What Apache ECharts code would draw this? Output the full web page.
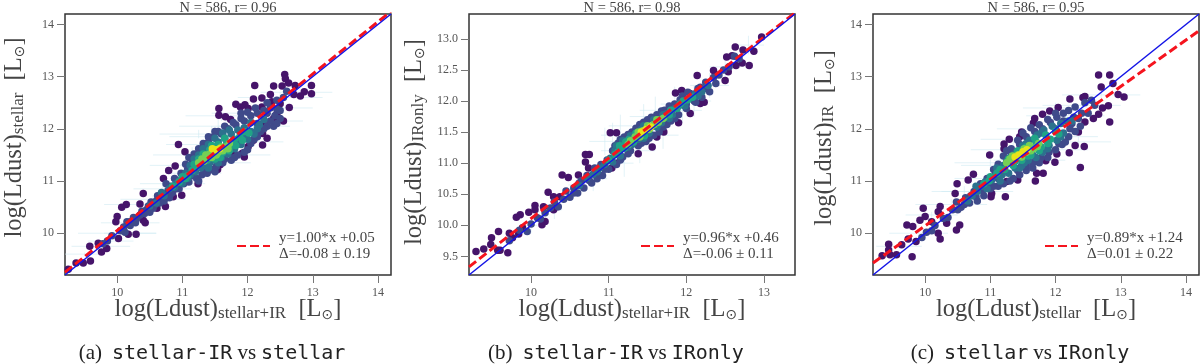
<!DOCTYPE html>
<html>
<head>
<meta charset="utf-8">
<style>html,body{margin:0;padding:0;background:#fff}#main{width:1200px;height:364px}</style>
<script src="https://cdn.jsdelivr.net/npm/echarts@6/dist/echarts.min.js"></script>
</head>
<body>
<div id="main"></div>
<script>
// tick labels
var ticksLong = [10, 11, 12, 13, 14];
var ticksShortX = [10, 11, 12, 13];
var ticksShortY = [9.5, 10, 10.5, 11, 11.5, 12, 12.5, 13];

// one-to-one and fitted lines
var oneToOneLong = [[9.2, 9.2], [14.2, 14.2]];
var oneToOneShort = [[9.2, 9.2], [13.4, 13.4]];
var fitA = [[9.2, 9.25], [14.2, 14.25]];
var fitB = [[9.2, 9.33], [13.4, 13.42]];
var fitC = [[9.2, 9.43], [14.2, 13.88]];

// panel a: points grouped by density, lowest first
var a0 = [[12.57,13.04],[12.58,12.96],[12.63,12.88],[12.73,12.83],[12.53,12.82],[12.40,12.82],[12.11,12.83],[12.98,12.83],[12.98,12.67],[12.87,12.71],[12.81,12.63],[12.71,12.66],[12.35,12.66],[12.22,12.59],[12.09,12.57],[11.96,12.46],[11.82,12.47],[12.64,12.41],[11.56,12.39],[11.56,12.26],[11.66,12.23],[11.74,12.18],[12.01,12.39],[11.89,12.42],[12.22,12.42],[12.37,12.52],[12.50,12.48],[12.45,12.29],[12.55,12.15],[12.40,12.20],[12.24,12.10],[12.23,11.91],[12.30,11.82],[12.23,11.69],[12.09,11.78],[12.01,11.66],[11.92,11.53],[11.95,11.46],[11.78,11.50],[11.58,11.40],[11.54,11.22],[11.58,11.31],[11.24,10.95],[10.94,11.70],[11.04,11.56],[10.89,11.29],[10.79,11.20],[10.71,11.05],[10.40,10.76],[10.35,10.56],[10.14,10.55],[10.07,10.50],[10.0,10.32],[9.98,10.22],[10.40,10.25],[10.43,10.20],[10.17,9.98],[10.29,9.98],[10.02,9.90],[9.58,9.75],[9.84,9.71],[9.76,9.64],[9.59,9.47],[9.48,9.43],[9.37,9.43],[9.25,9.31],[9.71,9.81],[10.74,10.51],[10.61,10.48],[10.99,10.73],[10.86,10.70]];
var a1 = [[10.05,10.05],[10.12,10.02],[10.2,10.15],[10.25,10.3],[10.3,10.28],[10.15,10.22],[10.1,10.12],[9.92,9.95],[9.85,9.85],[9.78,9.8],[10.35,10.35],[10.42,10.38],[10.48,10.52],[10.52,10.6],[10.55,10.48],[10.6,10.62],[10.65,10.58],[10.7,10.75],[10.72,10.62],[10.78,10.82],[10.8,10.68],[10.82,10.9],[10.85,10.78],[10.75,10.95],[10.9,10.85],[10.92,11.0],[10.95,10.85],[11.0,11.1],[11.02,10.95],[11.08,11.22],[11.1,10.98],[11.15,11.35],[11.15,11.1],[11.2,11.45],[11.22,11.05],[11.28,11.55],[11.3,11.12],[11.35,11.62],[11.38,11.15],[11.4,11.75],[11.45,11.22],[11.48,11.85],[11.52,11.28],[11.6,11.9],[11.62,11.35],[11.7,12.0],[11.75,11.4],[11.82,12.08],[11.85,11.5],[11.95,12.15],[12.0,11.6],[12.05,12.25],[12.1,11.8],[12.15,12.3],[12.2,11.95],[12.25,12.35],[12.3,12.05],[12.35,12.4],[12.4,12.05],[12.42,12.25],[12.45,12.38],[12.5,12.2],[12.55,12.6],[12.6,12.72],[11.9,12.2],[11.55,11.95],[11.25,11.4],[10.2,10.22],[10.28,10.2],[10.38,10.42],[10.45,10.45],[10.5,10.4],[10.58,10.55],[10.62,10.72],[10.68,10.68],[10.75,10.7],[10.82,10.75],[10.88,11.05],[10.98,11.15],[11.05,11.32],[11.1,11.45],[11.18,11.52],[11.25,11.62],[11.32,11.72],[11.4,11.85],[11.5,11.95],[11.65,12.05],[11.78,12.12],[11.9,12.3],[12.0,12.32],[12.12,12.4],[12.3,12.5],[12.45,12.55],[11.25,11.0],[11.35,11.22],[11.5,11.18],[11.65,11.42],[11.8,11.45],[11.95,11.55],[12.05,11.72],[12.15,11.85],[12.25,12.0],[12.35,12.15],[12.45,12.1],[12.5,12.35],[12.15,12.1],[12.3,12.3]];
var a2 = [[10.72,10.72],[10.8,10.85],[10.88,10.88],[10.95,11.0],[11.02,11.02],[11.05,11.15],[11.12,11.12],[11.15,11.25],[11.2,11.18],[11.22,11.35],[11.28,11.25],[11.3,11.45],[11.35,11.3],[11.38,11.55],[11.42,11.35],[11.45,11.65],[11.5,11.4],[11.55,11.75],[11.6,11.45],[11.65,11.82],[11.7,11.52],[11.75,11.9],[11.8,11.62],[11.85,11.98],[11.9,11.7],[11.95,12.02],[12.0,11.8],[12.05,12.12],[12.1,11.9],[12.18,12.08],[10.5,10.52],[10.6,10.58],[10.68,10.78],[10.9,10.95],[11.0,10.96],[11.08,11.05],[11.12,11.3],[11.18,11.42],[11.25,11.5],[11.32,11.62],[11.4,11.7],[11.5,11.82],[11.62,11.92],[11.72,11.98],[11.4,11.25],[11.55,11.35],[11.7,11.6],[11.85,11.75],[11.95,11.85],[12.05,11.95],[12.15,12.0],[12.25,12.18]];
var a3 = [[11.0,11.08],[11.08,11.1],[11.15,11.2],[11.22,11.28],[11.28,11.35],[11.32,11.52],[11.38,11.4],[11.42,11.6],[11.48,11.48],[11.55,11.7],[11.62,11.55],[11.68,11.72],[11.75,11.68],[11.8,11.8],[11.88,11.85],[11.95,11.95],[10.85,10.9],[10.95,10.98],[11.05,11.05],[11.18,11.32],[11.25,11.42],[11.35,11.48],[11.45,11.68],[11.5,11.42],[11.58,11.45],[11.72,11.58],[11.82,11.68],[11.92,11.78],[12.02,11.92],[11.65,11.82]];
var a4 = [[11.3,11.42],[11.36,11.5],[11.42,11.52],[11.48,11.58],[11.55,11.55],[11.6,11.65],[11.66,11.65],[11.72,11.72],[11.25,11.35],[11.33,11.38],[11.45,11.45],[11.52,11.5],[11.62,11.58],[11.7,11.62]];
var a5 = [[11.46,11.62],[11.52,11.6],[11.57,11.62]];
// panel a: x, y, x error, y error
var errA = [[9.5,9.6,0.3,0.03],[9.75,9.75,0.45,0.05],[10.0,10.0,0.6,0.05],[10.2,10.2,0.45,0.06],[10.3,10.55,0.5,0.05],[10.55,10.65,0.5,0.08],[10.7,10.85,0.45,0.1],[10.85,10.95,0.5,0.1],[11.05,11.3,0.55,0.12],[11.15,11.5,0.6,0.15],[11.3,11.7,0.55,0.1],[11.25,11.9,0.6,0.08],[11.45,11.85,0.65,0.2],[11.55,12.05,0.6,0.15],[11.6,12.25,0.55,0.1],[11.75,11.5,0.6,0.15],[11.95,11.75,0.6,0.12],[12.1,12.05,0.55,0.1],[12.25,12.15,0.6,0.1],[12.4,12.4,0.6,0.1],[12.5,12.6,0.65,0.1],[12.75,12.7,0.55,0.08],[12.0,12.3,0.55,0.1],[11.2,11.15,0.4,0.1],[11.55,11.35,0.5,0.12],[10.2,10.0,0.4,0.05],[9.9,9.85,0.35,0.04]];

// panel b
var b0 = [[12.97,13.03],[12.63,12.87],[12.73,12.82],[12.87,12.80],[12.59,12.73],[12.52,12.71],[12.81,12.57],[12.72,12.61],[12.64,12.57],[12.54,12.47],[12.14,12.41],[12.35,12.49],[12.50,12.33],[11.86,12.13],[11.94,12.17],[12.23,11.98],[12.18,11.96],[12.05,11.80],[11.90,11.65],[11.71,11.50],[11.62,11.42],[11.56,11.26],[11.38,11.15],[11.02,11.49],[11.10,11.49],[10.70,11.14],[10.75,11.14],[10.70,11.02],[10.74,10.92],[11.10,11.0],[11.04,10.92],[10.40,10.81],[10.48,10.77],[10.61,10.81],[10.22,10.53],[10.29,10.46],[10.37,10.46],[10.05,10.32],[9.97,10.21],[10.05,10.25],[10.16,10.30],[9.86,10.17],[9.81,10.13],[10.14,10.01],[9.58,9.90],[9.49,9.80],[9.72,9.87],[9.76,9.80],[9.48,9.69],[9.29,9.58],[9.39,9.62],[9.57,9.60],[9.60,9.60],[9.70,9.56],[9.84,9.86],[9.89,9.96],[10.29,10.25],[10.33,10.30],[10.18,10.06]];
var b1 = [[10.0,10.02],[10.08,10.12],[10.12,10.1],[10.18,10.2],[10.25,10.28],[10.3,10.38],[10.35,10.3],[10.42,10.42],[10.45,10.55],[10.5,10.45],[10.55,10.6],[10.6,10.52],[10.62,10.68],[10.68,10.6],[10.72,10.8],[10.78,10.68],[10.82,10.92],[10.85,10.75],[10.9,10.98],[10.92,10.8],[10.98,11.05],[11.0,10.9],[11.05,11.2],[11.1,10.98],[11.12,11.32],[11.18,11.1],[11.2,11.42],[11.28,11.2],[11.3,11.5],[11.38,11.28],[11.4,11.62],[11.48,11.35],[11.5,11.7],[11.58,11.45],[11.62,11.78],[11.7,11.58],[11.72,11.85],[11.8,11.68],[11.85,11.95],[11.9,11.78],[11.95,12.08],[12.0,11.88],[12.05,12.12],[12.1,12.0],[12.18,12.22],[12.2,12.06],[12.25,12.3],[12.3,12.15],[12.35,12.38],[12.42,12.42],[12.48,12.5],[12.55,12.55],[12.62,12.72],[12.68,12.68],[9.72,9.75],[9.85,9.92],[9.95,9.9],[10.55,10.52],[10.65,10.72],[10.75,10.72],[10.85,10.85],[10.95,10.9],[11.08,11.28],[11.15,11.38],[11.25,11.46],[11.35,11.56],[11.45,11.66],[11.55,11.74],[11.68,11.84],[11.78,11.92],[11.92,12.02],[12.02,12.14],[12.15,12.2],[11.15,11.05],[11.25,11.15],[11.42,11.32],[11.52,11.4],[11.65,11.5],[11.75,11.62],[11.85,11.72],[12.0,11.95],[12.12,11.98],[12.25,12.2],[12.38,12.28]];
var b2 = [[10.62,10.64],[10.72,10.76],[10.8,10.82],[10.88,10.92],[10.95,10.98],[11.02,11.08],[11.08,11.2],[11.14,11.2],[11.2,11.32],[11.25,11.26],[11.32,11.42],[11.38,11.38],[11.45,11.6],[11.52,11.48],[11.6,11.68],[11.68,11.65],[11.75,11.8],[11.82,11.78],[11.9,11.92],[11.98,11.92],[12.05,12.05],[12.12,12.12],[12.2,12.15],[12.28,12.25],[11.1,11.28],[11.18,11.36],[11.28,11.44],[11.42,11.54],[11.58,11.7],[11.7,11.78],[11.85,11.88],[12.0,12.0],[12.15,12.08],[10.85,10.86],[11.05,11.02],[11.15,11.12],[11.3,11.3],[11.45,11.4],[11.62,11.58],[11.78,11.72]];
var b3 = [[11.0,11.05],[11.08,11.14],[11.14,11.28],[11.2,11.24],[11.26,11.38],[11.32,11.34],[11.4,11.48],[11.46,11.44],[11.55,11.58],[11.65,11.7],[11.72,11.74],[11.8,11.85],[11.88,11.88],[11.96,12.0],[12.08,12.06],[11.12,11.18],[11.22,11.34],[11.35,11.48],[11.6,11.62],[11.78,11.78],[11.92,11.95],[12.02,12.02]];
var b4 = [[11.28,11.36],[11.34,11.42],[11.4,11.42],[11.44,11.52],[11.52,11.54],[11.58,11.62],[11.64,11.66],[11.25,11.3],[11.38,11.5],[11.5,11.6],[11.62,11.7],[11.7,11.72]];
var b5 = [[11.42,11.5],[11.48,11.54],[11.54,11.58]];
var errB = [[10.0,10.0,0.08,0.12],[10.3,10.25,0.1,0.15],[10.6,10.65,0.12,0.15],[10.8,10.75,0.18,0.2],[10.95,11.35,0.2,0.22],[11.05,11.45,0.15,0.2],[11.1,11.2,0.2,0.25],[11.2,11.0,0.12,0.22],[11.4,11.2,0.2,0.2],[11.45,11.75,0.18,0.2],[11.6,11.85,0.2,0.22],[11.7,11.45,0.2,0.22],[11.85,11.95,0.18,0.28],[11.95,11.85,0.25,0.2],[12.1,12.0,0.22,0.25],[12.3,12.25,0.25,0.2],[12.5,12.55,0.2,0.2],[12.8,12.9,0.2,0.15],[11.15,11.6,0.15,0.18]];

// panel c
var c0 = [[12.66,13.03],[12.83,13.03],[12.70,12.80],[12.88,12.87],[12.96,12.66],[13.05,12.61],[12.81,12.44],[12.72,12.40],[12.83,12.13],[12.66,12.28],[12.58,12.20],[12.42,12.60],[12.22,12.57],[12.04,12.41],[11.91,12.34],[11.80,12.28],[11.68,12.20],[11.66,12.11],[11.48,11.94],[11.45,11.85],[11.29,11.80],[11.21,11.71],[11.21,11.62],[10.99,11.50],[10.74,11.13],[10.49,10.95],[10.66,11.02],[10.46,10.76],[10.23,10.51],[10.20,10.41],[9.97,10.48],[9.92,10.25],[10.0,10.32],[9.72,10.16],[9.81,10.13],[10.10,10.22],[10.33,10.19],[10.53,10.16],[10.48,10.06],[10.20,10.0],[10.23,9.89],[9.80,9.55],[9.44,9.79],[9.44,9.68],[9.34,9.57],[9.46,9.59],[9.56,9.59],[9.64,9.78],[9.74,9.89],[9.86,9.84],[11.23,10.70],[11.01,10.70],[11.02,10.76],[11.42,11.02],[11.69,11.0],[11.71,11.15],[11.81,11.15],[11.85,11.39],[11.99,11.36],[12.38,11.26],[12.21,11.54],[12.30,11.68],[12.44,11.66],[12.02,11.52],[12.35,11.94],[12.45,12.13],[11.25,10.99],[12.45,12.62]];
var c1 = [[9.95,9.92],[10.02,10.02],[10.1,10.05],[10.15,10.15],[10.28,10.28],[10.35,10.3],[10.42,10.45],[10.48,10.6],[10.55,10.5],[10.62,10.68],[10.68,10.58],[10.75,10.8],[10.8,10.62],[10.85,10.95],[10.9,10.72],[10.95,11.05],[11.0,10.85],[11.08,11.15],[11.12,10.9],[11.2,11.2],[11.2,10.95],[11.28,11.4],[11.35,11.05],[11.35,11.55],[11.45,11.12],[11.45,11.7],[11.55,11.2],[11.55,11.85],[11.65,11.25],[11.68,11.95],[11.75,11.35],[11.8,12.0],[11.88,11.45],[11.92,12.12],[12.0,11.6],[12.02,12.22],[12.1,11.7],[12.12,12.3],[12.2,11.85],[12.2,12.35],[12.3,11.95],[12.3,12.42],[12.38,12.05],[12.4,12.3],[12.45,12.5],[12.5,12.3],[12.55,12.55],[12.6,12.45],[12.15,11.75],[12.25,12.1],[10.5,10.45],[10.6,10.55],[10.7,10.72],[10.78,10.7],[10.88,10.82],[10.98,10.95],[11.05,11.22],[11.12,11.32],[11.2,11.48],[11.25,11.58],[11.32,11.62],[11.42,11.78],[11.5,11.92],[11.62,12.02],[11.75,12.08],[11.88,12.18],[12.0,12.3],[12.12,12.15],[12.28,12.22],[11.3,11.0],[11.42,11.2],[11.55,11.3],[11.65,11.35],[11.78,11.45],[11.9,11.55],[12.05,11.72],[12.22,12.0],[12.35,12.2],[11.12,11.05],[11.05,10.9]];
var c2 = [[10.72,10.72],[10.8,10.8],[10.88,10.9],[10.95,10.85],[11.02,11.02],[11.1,11.1],[11.15,11.0],[11.2,11.3],[11.28,11.15],[11.3,11.45],[11.38,11.25],[11.4,11.55],[11.48,11.3],[11.5,11.68],[11.58,11.4],[11.6,11.78],[11.7,11.45],[11.72,11.88],[11.8,11.55],[11.82,11.98],[11.9,11.68],[11.95,12.05],[12.02,11.78],[12.08,12.1],[12.12,11.92],[12.2,12.15],[10.65,10.62],[10.78,10.9],[10.92,10.98],[11.1,11.25],[11.18,11.12],[11.25,11.38],[11.35,11.5],[11.45,11.25],[11.55,11.72],[11.65,11.5],[11.78,11.92],[11.88,11.62],[12.0,12.0],[12.08,11.85],[12.25,12.15],[11.52,11.35]];
var c3 = [[10.9,10.95],[11.0,11.08],[11.1,11.15],[11.22,11.22],[11.3,11.35],[11.35,11.3],[11.42,11.58],[11.48,11.4],[11.55,11.65],[11.62,11.5],[11.7,11.75],[11.78,11.65],[11.85,11.88],[11.92,11.8],[12.0,11.95],[10.98,11.0],[11.15,11.22],[11.28,11.42],[11.38,11.38],[11.5,11.6],[11.58,11.48],[11.68,11.82],[11.75,11.58],[11.88,11.72],[12.05,11.9]];
var c4 = [[11.3,11.42],[11.36,11.4],[11.42,11.5],[11.48,11.46],[11.55,11.55],[11.6,11.68],[11.66,11.62],[11.74,11.72],[11.25,11.35],[11.34,11.48],[11.52,11.62],[11.62,11.58],[11.72,11.66]];
var c5 = [[11.38,11.46],[11.44,11.5],[11.5,11.56],[11.56,11.6]];
var errC = [[9.6,9.75,0.35,0.05],[9.9,10.0,0.45,0.08],[10.1,10.35,0.4,0.06],[10.4,10.55,0.55,0.1],[10.6,10.8,0.5,0.1],[10.8,10.8,0.55,0.12],[10.95,11.05,0.5,0.1],[11.0,11.35,0.55,0.12],[11.15,11.3,0.6,0.15],[11.35,11.6,0.65,0.18],[11.45,11.8,0.6,0.15],[11.6,11.4,0.55,0.15],[11.7,12.0,0.6,0.15],[11.9,11.6,0.6,0.12],[12.05,11.85,0.6,0.12],[12.15,12.25,0.6,0.12],[12.35,11.75,0.5,0.1],[12.4,12.45,0.6,0.1],[12.7,12.65,0.6,0.08],[12.0,12.4,0.5,0.1]];

var densityColors = ['#46146a', '#3f4a8a', '#2c728e', '#20a486', '#75d054', '#e8e419'];
var fitNames = ['y=1.00*x +0.05\nΔ=-0.08 ± 0.19', 'y=0.96*x +0.46\nΔ=-0.06 ± 0.11', 'y=0.89*x +1.24\nΔ=0.01 ± 0.22'];

var serif = '"Liberation Serif", serif';
var grey = '#444';

var panels = [
  {left: 65, xMax: 14.2, yMax: 14.2, xTicks: ticksLong, yTicks: ticksLong, oneToOne: oneToOneLong, fit: fitA, err: errA,
   groups: [a0, a1, a2, a3, a4, a5], title: 'N = 586, r= 0.96', xSub: 'stellar+IR', ySub: 'stellar', yGap: 38, yShift: 14, decimals: 0,
   caption: '{s|(a)}  {m|stellar-IR} {s|vs} {m|stellar}', captionX: 212, legendLeft: 231},
  {left: 469, xMax: 13.4, yMax: 13.4, xTicks: ticksShortX, yTicks: ticksShortY, oneToOne: oneToOneShort, fit: fitB, err: errB,
   groups: [b0, b1, b2, b3, b4, b5], title: 'N = 586, r= 0.98', xSub: 'stellar+IR', ySub: 'IRonly', yGap: 42, yShift: 5, decimals: 1,
   caption: '{s|(b)}  {m|stellar-IR} {s|vs} {m|IRonly}', captionX: 616, legendLeft: 635},
  {left: 873, xMax: 14.2, yMax: 14.2, xTicks: ticksLong, yTicks: ticksLong, oneToOne: oneToOneLong, fit: fitC, err: errC,
   groups: [c0, c1, c2, c3, c4, c5], title: 'N = 586, r= 0.95', xSub: 'stellar', ySub: 'IR', yGap: 36, yShift: 13, decimals: 0,
   caption: '{s|(c)}  {m|stellar} {s|vs} {m|IRonly}', captionX: 1020, legendLeft: 1039}
];

var nameRich = {
  main: {fontFamily: serif, fontSize: 24.5, color: grey},
  sub: {fontFamily: serif, fontSize: 17, color: grey, verticalAlign: 'bottom', lineHeight: 21},
  sun: {fontFamily: 'DejaVu Sans', fontSize: 14, color: grey, verticalAlign: 'bottom', lineHeight: 21}
};

function errorBar(params, api) {
  var x = api.value(0), y = api.value(1), xe = api.value(2), ye = api.value(3);
  var style = {stroke: '#cfeaf2', lineWidth: 1, opacity: 0.6};
  var h0 = api.coord([x - xe, y]), h1 = api.coord([x + xe, y]);
  var v0 = api.coord([x, y - ye]), v1 = api.coord([x, y + ye]);
  return {type: 'group', children: [
    {type: 'line', shape: {x1: h0[0], y1: h0[1], x2: h1[0], y2: h1[1]}, style: style},
    {type: 'line', shape: {x1: v0[0], y1: v0[1], x2: v1[0], y2: v1[1]}, style: style}
  ]};
}

var grids = [], xAxes = [], yAxes = [], titles = [], legends = [], series = [];

panels.forEach(function (p, i) {
  grids.push({left: p.left, top: 14, width: 326, height: 261, show: true, borderColor: '#333', borderWidth: 1.5, backgroundColor: '#fff'});
  xAxes.push({
    type: 'value', gridIndex: i, min: 9.2, max: p.xMax, splitLine: {show: false}, axisLine: {show: false},
    axisTick: {customValues: p.xTicks, length: 8, lineStyle: {color: '#777'}},
    axisLabel: {customValues: p.xTicks, fontFamily: serif, fontSize: 12, color: '#555', margin: 12},
    name: '{main|log(Ldust)}{sub|' + p.xSub + '}{main|  [L}{sun|⊙}{main|]}',
    nameLocation: 'middle', nameGap: 22, nameMoveOverlap: false, nameTextStyle: {rich: nameRich}
  });
  yAxes.push({
    type: 'value', gridIndex: i, min: 9.2, max: p.yMax, splitLine: {show: false}, axisLine: {show: false},
    axisTick: {customValues: p.yTicks, length: 8, lineStyle: {color: '#777'}},
    axisLabel: {customValues: p.yTicks, fontFamily: serif, fontSize: 12, color: '#555', margin: 11,
      formatter: function (v) { return v.toFixed(p.decimals); }},
    name: '{main|log(Ldust)}{sub|' + p.ySub + '}{main|  [L}{sun|⊙}{main|]}',
    nameLocation: 'middle', nameGap: p.yGap, nameTextStyle: {rich: nameRich, padding: [0, 0, 0, p.yShift]}
  });
  titles.push({text: p.title, left: p.left + 158, top: -4, textAlign: 'center',
    textStyle: {fontFamily: serif, fontSize: 14.5, fontWeight: 'normal', color: grey}});
  titles.push({text: p.caption, left: p.captionX - 5, top: 338, textAlign: 'center', textStyle: {fontWeight: 'normal', rich: {
    s: {fontFamily: serif, fontSize: 21, fontWeight: 'normal', color: '#222'},
    m: {fontFamily: '"DejaVu Sans Mono"', fontSize: 20, fontWeight: 'normal', color: '#222'}
  }}});
  legends.push({
    data: [fitNames[i]], left: p.legendLeft, top: 225, itemWidth: 33, itemHeight: 10, itemGap: 0,
    itemStyle: {opacity: 0},
    textStyle: {fontFamily: serif, fontSize: 15, color: grey, lineHeight: 16, padding: [0, 0, 0, 4]}
  });
  series.push({type: 'custom', xAxisIndex: i, yAxisIndex: i, data: p.err, renderItem: errorBar, clip: true, silent: true, z: 1, encode: {x: 0, y: 1}});
  p.groups.forEach(function (g, k) {
    series.push({type: 'scatter', xAxisIndex: i, yAxisIndex: i, data: g, symbolSize: 7.5, itemStyle: {color: densityColors[k], opacity: 1}, z: 2 + k, silent: true});
  });
  series.push({name: fitNames[i], type: 'line', xAxisIndex: i, yAxisIndex: i, data: p.fit, symbol: 'none', z: 9, lineStyle: {color: '#f5141e', width: 3, type: [9, 4]}, itemStyle: {color: '#f5141e'}});
  series.push({type: 'line', xAxisIndex: i, yAxisIndex: i, data: p.oneToOne, symbol: 'none', z: 10, lineStyle: {color: '#1414e6', width: 1.5}});
});

var chart = echarts.init(document.getElementById('main'), null, {renderer: 'canvas'});
chart.setOption({
  animation: false, backgroundColor: '#fff',
  title: titles, legend: legends, grid: grids, xAxis: xAxes, yAxis: yAxes, series: series
});
</script>
</body>
</html>
